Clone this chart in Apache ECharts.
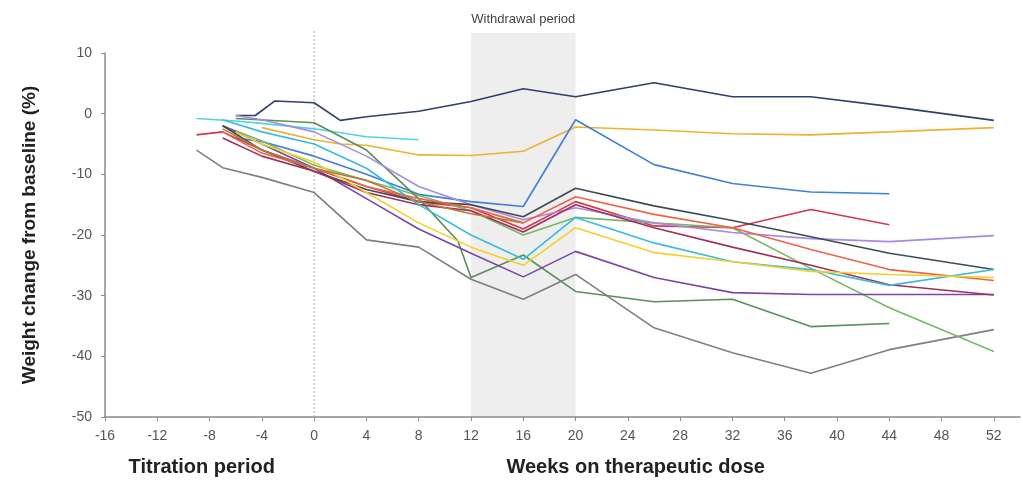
<!DOCTYPE html>
<html>
<head>
<meta charset="utf-8">
<script src="https://cdn.jsdelivr.net/npm/echarts@6/dist/echarts.min.js"></script>
<style>
html,body{margin:0;padding:0;background:#fff;}
#chart{width:1023px;height:480px;}
</style>
</head>
<body>
<div id="chart"></div>
<script>
// ---- data ----
const xTicks = [-16,-12,-8,-4,0,4,8,12,16,20,24,28,32,36,40,44,48,52];
const yTicks = [10,0,-10,-20,-30,-40,-50];
const withdrawalStart = 12, withdrawalEnd = 20;

const navyWeeks = [-6,-4.5,-3,0,2,4,8,12,16,20,26,32,38,44,52];
const navyValues = [-0.3,-0.3,2.1,1.8,-1.1,-0.5,0.4,2,4.1,2.8,5.1,2.8,2.8,1.2,-1.1];

const orangeWeeks = [-4,0,2,4,8,12,16,20,26,32,38,44,52];
const orangeValues = [-2.3,-4.3,-5,-5.2,-6.8,-6.9,-6.2,-2.2,-2.7,-3.3,-3.5,-3,-2.3];

const blueWeeks = [-6,-4,0,4,8,12,16,20,26,32,38,44];
const blueValues = [-4,-4.6,-7,-10,-13.3,-14.5,-15.3,-1,-8.4,-11.5,-12.9,-13.2];

const cyanWeeks = [-9,-6,-4,0,4,8];
const cyanValues = [-0.8,-1.2,-1.6,-2.5,-3.8,-4.3];

const crimsonWeeks = [-9,-7,-4,0,4,8,12,16,20,26,32,38,44];
const crimsonValues = [-3.5,-3,-6,-9,-12,-14.5,-15.5,-19,-14.5,-18.5,-18.8,-15.8,-18.3];

const grayWeeks = [-9,-7,-4,0,4,8,12,16,20,26,32,38,44,52];
const grayValues = [-6,-8.9,-10.5,-13,-20.8,-22,-27.3,-30.6,-26.5,-35.3,-39.4,-42.8,-38.9,-35.6];

const lightGreenWeeks = [-7,-4,0,4,8,12,16,20,26,32,38,44,52];
const lightGreenValues = [-2,-4.5,-8.5,-11,-13.5,-16,-20,-17.1,-18,-18.8,-25.5,-32,-39.2];

const darkGreenWeeks = [-6,0,4,8,11,12,16,20,26,32,38,44];
const darkGreenValues = [-0.8,-1.5,-6,-14,-21,-27,-23.3,-29.3,-31,-30.6,-35.1,-34.6];

const purpleWeeks = [-7,-4,0,4,8,12,16,20,26,32,38,44,52];
const purpleValues = [-2,-5,-9,-14,-19,-23,-26.9,-22.7,-27,-29.5,-29.8,-29.8,-29.8];

const lavenderWeeks = [-6,-4,0,4,8,12,16,20,26,32,38,44,52];
const lavenderValues = [-0.3,-1,-3,-7,-12,-15,-17.5,-15.5,-18,-19.6,-20.6,-21.1,-20.1];

const slateWeeks = [-7,-4,0,4,8,12,16,20,26,32,38,44,52];
const slateValues = [-2,-6,-9.5,-12.5,-14.5,-15,-17,-12.3,-15.2,-17.6,-20.3,-23,-25.7];

const redOrangeWeeks = [-7,-4,0,4,8,12,16,20,26,32,38,44,52];
const redOrangeValues = [-3,-6.5,-9,-12,-14,-15.5,-18,-13.7,-16.6,-18.8,-22.4,-25.7,-27.5];

const magentaWeeks = [-7,-4,0,4,8,12,16,20,26,32,38,44,52];
const magentaValues = [-4,-7,-9.5,-13,-15,-16,-19.5,-15,-18.8,-22,-25,-28.2,-29.9];

const tealWeeks = [-7,-4,0,4,8,12,16,20,26,32,38,44,52];
const tealValues = [-1,-3,-5,-9,-15,-20,-24,-17.1,-21.3,-24.4,-25.7,-28.3,-25.7];

const yellowWeeks = [-6,-4,0,4,8,12,16,20,26,32,38,44,52];
const yellowValues = [-3,-5,-8,-13,-18,-22,-25,-18.8,-22.9,-24.4,-26,-26.5,-27];

const brownWeeks = [-7,-4,0,4,8,12,16];
const brownValues = [-2.5,-6,-9,-11,-14.5,-16.5,-18];

const seriesDefs = [
  ['navy', navyWeeks, navyValues, '#2f3e6b'],
  ['orange', orangeWeeks, orangeValues, '#f0b030'],
  ['blue', blueWeeks, blueValues, '#3f7fd6'],
  ['cyan', cyanWeeks, cyanValues, '#4fd4e0'],
  ['crimson', crimsonWeeks, crimsonValues, '#d2384f'],
  ['gray', grayWeeks, grayValues, '#7f7f7f'],
  ['lightGreen', lightGreenWeeks, lightGreenValues, '#76b86a'],
  ['darkGreen', darkGreenWeeks, darkGreenValues, '#5a8f5a'],
  ['purple', purpleWeeks, purpleValues, '#7b45a8'],
  ['lavender', lavenderWeeks, lavenderValues, '#a58ae0'],
  ['slate', slateWeeks, slateValues, '#3c4b55'],
  ['redOrange', redOrangeWeeks, redOrangeValues, '#ec6448'],
  ['magenta', magentaWeeks, magentaValues, '#a0305a'],
  ['teal', tealWeeks, tealValues, '#38bcdc'],
  ['yellow', yellowWeeks, yellowValues, '#f2d02a'],
  ['brown', brownWeeks, brownValues, '#b87a3a']
];

// ---- chart ----
const chart = echarts.init(document.getElementById('chart'), null, {renderer:'canvas'});
const FONT = 'Liberation Sans, Arial, sans-serif';

const series = seriesDefs.map(d => ({
  name: d[0], type: 'line', symbol: 'none', smooth: false,
  data: d[1].map((w,i) => [w, d[2][i]]),
  lineStyle: {color: d[3], width: 1.6},
  itemStyle: {color: d[3]},
  z: 3
}));

chart.setOption({
  animation: false,
  backgroundColor: '#fff',
  grid: {left: 105, right: 3, top: 53, bottom: 63},
  xAxis: {
    type: 'value', min: -16, max: 54, interval: 4,
    axisLine: {onZero: false, lineStyle: {color: '#8a8a8a', width: 1.5}},
    axisTick: {show: true, length: 4, lineStyle: {color: '#8a8a8a'}},
    axisLabel: {color: '#555', fontSize: 14, fontFamily: FONT, margin: 12, showMaxLabel: false},
    splitLine: {show: false}
  },
  yAxis: {
    type: 'value', min: -50, max: 10, interval: 10,
    name: 'Weight change from baseline (%)', nameLocation: 'middle', nameGap: 66,
    nameTextStyle: {fontSize: 19, fontWeight: 'bold', color: '#222', fontFamily: FONT},
    axisLine: {show: true, onZero: false, lineStyle: {color: '#8a8a8a', width: 1.5}},
    axisTick: {show: true, length: 4, lineStyle: {color: '#8a8a8a'}},
    axisLabel: {color: '#555', fontSize: 14, fontFamily: FONT, margin: 13},
    splitLine: {show: false}
  },
  series: series
});

// overlays computed through the axis scales
const pA = chart.convertToPixel({gridIndex: 0}, [withdrawalStart, -50]);
const pB = chart.convertToPixel({gridIndex: 0}, [withdrawalEnd, -50]);
const p0 = chart.convertToPixel({gridIndex: 0}, [0, -50]);
const pTit = chart.convertToPixel({gridIndex: 0}, [-8.6, -50]);
const pWeeks = chart.convertToPixel({gridIndex: 0}, [24.6, -50]);
const topY = 33;

chart.setOption({
  graphic: [
    {type: 'rect', z: 0, silent: true,
     shape: {x: pA[0], y: topY, width: pB[0] - pA[0], height: pA[1] - topY},
     style: {fill: '#eeeeee'}},
    {type: 'line', z: 1, silent: true,
     shape: {x1: p0[0], y1: topY - 2, x2: p0[0], y2: p0[1]},
     style: {stroke: '#aaaaaa', lineWidth: 1, lineDash: [2, 2]}},
    {type: 'text', z: 5, silent: true, x: (pA[0] + pB[0]) / 2, y: 19,
     style: {text: 'Withdrawal period', fill: '#444', font: '13px ' + FONT, textAlign: 'center', textVerticalAlign: 'middle'}},
    {type: 'text', z: 5, silent: true, x: pTit[0], y: 467,
     style: {text: 'Titration period', fill: '#222', font: 'bold 20px ' + FONT, textAlign: 'center', textVerticalAlign: 'middle'}},
    {type: 'text', z: 5, silent: true, x: pWeeks[0], y: 467,
     style: {text: 'Weeks on therapeutic dose', fill: '#222', font: 'bold 20px ' + FONT, textAlign: 'center', textVerticalAlign: 'middle'}}
  ]
});
</script>
</body>
</html>
